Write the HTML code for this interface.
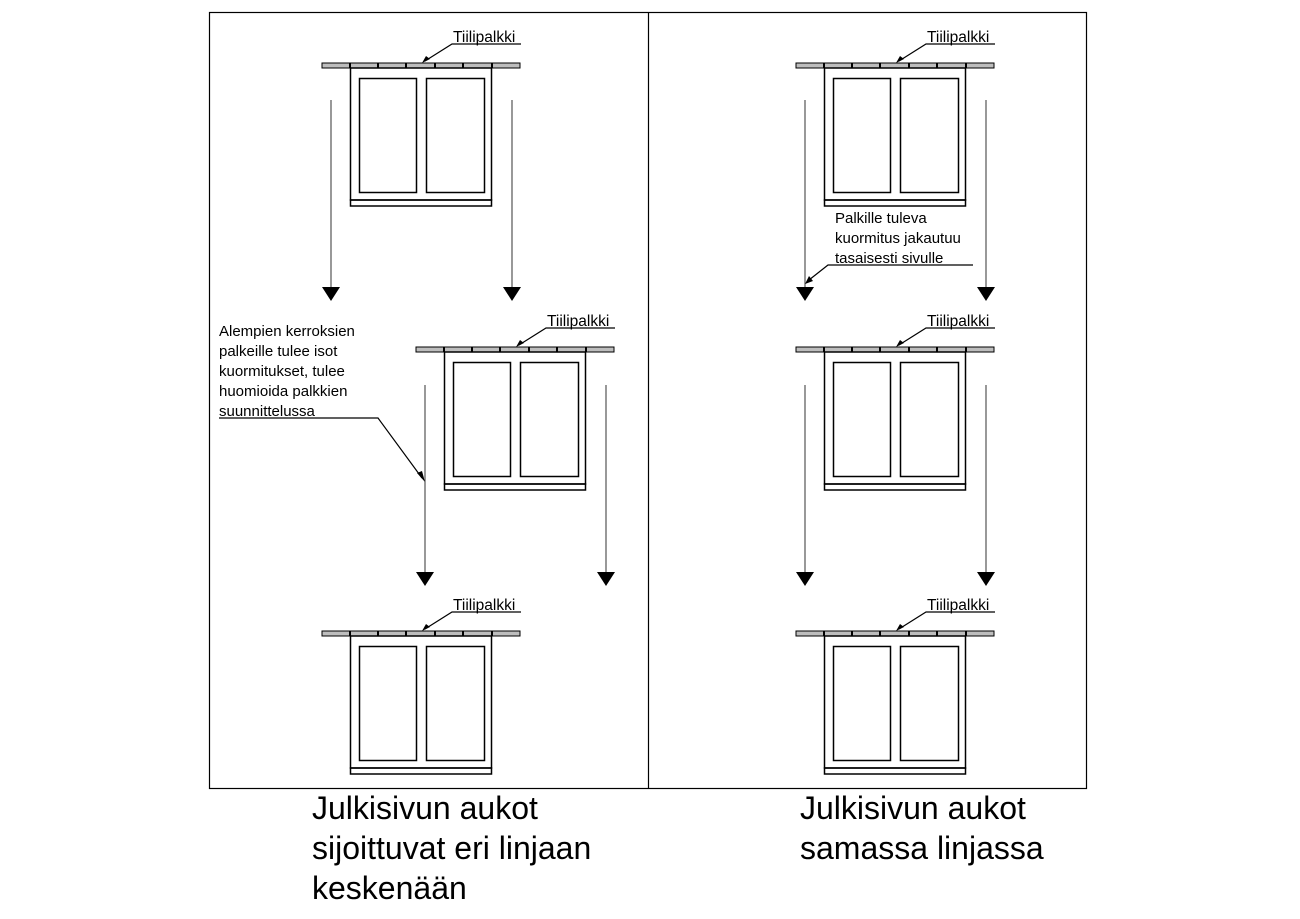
<!DOCTYPE html>
<html><head><meta charset="utf-8"><style>
body{margin:0;background:#fff}
svg{display:block;font-family:"Liberation Sans",Arial,sans-serif}
</style></head><body>
<svg width="1300" height="919" viewBox="0 0 1300 919" xmlns="http://www.w3.org/2000/svg">
<defs>
<g id="win">
  <rect x="0" y="0" width="198" height="5" fill="#bdbdbd" stroke="#000" stroke-width="1"/>
  <g stroke="#000" stroke-width="2">
    <line x1="28" y1="0" x2="28" y2="5"/><line x1="56" y1="0" x2="56" y2="5"/>
    <line x1="84" y1="0" x2="84" y2="5"/><line x1="113" y1="0" x2="113" y2="5"/>
    <line x1="141" y1="0" x2="141" y2="5"/><line x1="170" y1="0" x2="170" y2="5"/>
  </g>
  <rect x="28.5" y="5" width="141" height="132" fill="none" stroke="#000" stroke-width="1.5"/>
  <rect x="28.5" y="137" width="141" height="6" fill="none" stroke="#000" stroke-width="1.5"/>
  <rect x="37.5" y="15.5" width="57" height="114" fill="none" stroke="#000" stroke-width="1.5"/>
  <rect x="104.5" y="15.5" width="58" height="114" fill="none" stroke="#000" stroke-width="1.5"/>
  <polyline points="199,-19 130,-19 103,-2" fill="none" stroke="#000" stroke-width="1.2"/>
  <polygon points="100,0 104,-7 108,-4" fill="#000"/>
</g>
<g id="arr">
  <line x1="0" y1="0" x2="0" y2="190" stroke="#555" stroke-width="1.2"/>
  <polygon points="-9,187 9,187 0,201" fill="#000"/>
</g>
</defs>
<rect x="209.5" y="12.5" width="877" height="776" fill="none" stroke="#000" stroke-width="1.2"/>
<line x1="648.5" y1="12" x2="648.5" y2="788" stroke="#000" stroke-width="1.2"/>

<use href="#win" x="322" y="63"/>
<use href="#win" x="416" y="347"/>
<use href="#win" x="322" y="631"/>
<use href="#win" x="796" y="63"/>
<use href="#win" x="796" y="347"/>
<use href="#win" x="796" y="631"/>

<g font-size="15.5" fill="#000">
<text x="453" y="42">Tiilipalkki</text>
<text x="547" y="326">Tiilipalkki</text>
<text x="453" y="610">Tiilipalkki</text>
<text x="927" y="42">Tiilipalkki</text>
<text x="927" y="326">Tiilipalkki</text>
<text x="927" y="610">Tiilipalkki</text>
</g>

<use href="#arr" x="331" y="100"/>
<use href="#arr" x="512" y="100"/>
<use href="#arr" x="425" y="385"/>
<use href="#arr" x="606" y="385"/>
<use href="#arr" x="805" y="100"/>
<use href="#arr" x="986" y="100"/>
<use href="#arr" x="805" y="385"/>
<use href="#arr" x="986" y="385"/>

<g font-size="15" fill="#000">
<text x="219" y="336">Alempien kerroksien</text>
<text x="219" y="356">palkeille tulee isot</text>
<text x="219" y="376">kuormitukset, tulee</text>
<text x="219" y="396">huomioida palkkien</text>
<text x="219" y="416">suunnittelussa</text>
<text x="835" y="223">Palkille tuleva</text>
<text x="835" y="243">kuormitus jakautuu</text>
<text x="835" y="263">tasaisesti sivulle</text>
</g>
<polyline points="219,418 378,418 422,478" fill="none" stroke="#000" stroke-width="1.2"/>
<polygon points="425,482 417,473 422,471" fill="#000"/>
<polyline points="973,265 828,265 809,280" fill="none" stroke="#000" stroke-width="1.2"/>
<polygon points="805,284 809,276 813,281" fill="#000"/>

<g font-size="32" fill="#000">
<text x="312" y="819">Julkisivun aukot</text>
<text x="312" y="859">sijoittuvat eri linjaan</text>
<text x="312" y="899">keskenään</text>
<text x="800" y="819">Julkisivun aukot</text>
<text x="800" y="859">samassa linjassa</text>
</g>
</svg>
</body></html>
